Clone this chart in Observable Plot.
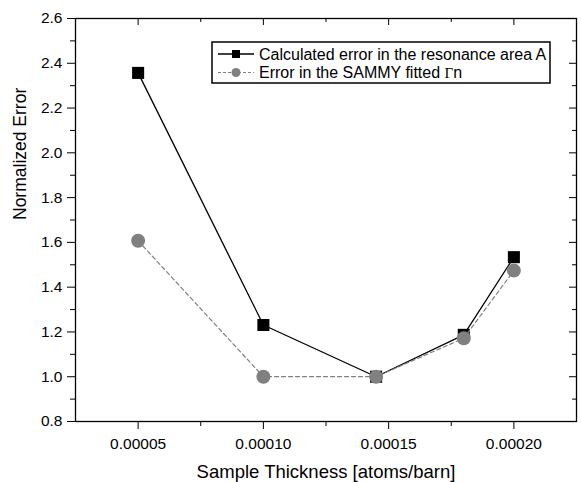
<!DOCTYPE html>
<html><head><meta charset="utf-8">
<script src="https://cdn.jsdelivr.net/npm/d3@7"></script>
<script src="https://cdn.jsdelivr.net/npm/@observablehq/plot@0.6"></script>
<style>body{margin:0;background:#fff}#chart{width:581px;height:482px}</style>
</head><body><div id="chart"></div>
<script>
const thickness = [0.00005, 0.00010, 0.000145, 0.00018, 0.00020];
const calcError = [2.357, 1.231, 1.00, 1.187, 1.534];
const sammyError = [1.607, 1.00, 1.00, 1.172, 1.474];
const xMajorTicks = [0.00005, 0.00010, 0.00015, 0.00020];
const xMinorTicks = [0.000075, 0.000125, 0.000175];
const yMajorTicks = [0.8, 1.0, 1.2, 1.4, 1.6, 1.8, 2.0, 2.2, 2.4, 2.6];
const yMinorTicks = [0.9, 1.1, 1.3, 1.5, 1.7, 1.9, 2.1, 2.3, 2.5];
const xTitle = "Sample Thickness [atoms/barn]";
const yTitle = "Normalized Error";
const seriesNames = ["Calculated error in the resonance area A", "Error in the SAMMY fitted "];

const rows = thickness.map((t, i) => ({t, calc: calcError[i], sammy: sammyError[i]}));

const W = 581, H = 482, mL = 75, mR = 5, mT = 18, mB = 61;
const fw = W - mL - mR, fh = H - mT - mB;
const FONT = "Arial, 'Liberation Sans', sans-serif";

const svg = Plot.plot({
  width: W, height: H,
  marginLeft: mL, marginRight: mR, marginTop: mT, marginBottom: mB,
  style: {fontFamily: FONT, fontSize: "15px", color: "black", background: "white"},
  x: {domain: [0.000025, 0.000225]},
  y: {domain: [0.8, 2.6]},
  marks: [
    Plot.axisX({ticks: xMajorTicks, tickSize: 8, tickPadding: 8, tickFormat: d => d.toFixed(5), label: null, fontSize: 15.5}),
    Plot.axisX({ticks: xMinorTicks, tickSize: 5, tickFormat: () => "", label: null}),
    Plot.axisY({ticks: yMajorTicks, tickSize: 8, tickPadding: 5, tickFormat: d => d.toFixed(1), label: null, fontSize: 15.5}),
    Plot.axisY({ticks: yMinorTicks, tickSize: 5, tickFormat: () => "", label: null}),
    Plot.tickX(xMajorTicks, {x: d => d, insetBottom: fh - 7, stroke: "black"}),
    Plot.tickX(xMinorTicks, {x: d => d, insetBottom: fh - 4, stroke: "black"}),
    Plot.tickY(yMajorTicks, {y: d => d, insetLeft: fw - 7, stroke: "black"}),
    Plot.tickY(yMinorTicks, {y: d => d, insetLeft: fw - 4, stroke: "black"}),
    Plot.frame({stroke: "black", strokeWidth: 1.3}),
    Plot.text([xTitle], {text: d => d, frameAnchor: "bottom", lineAnchor: "middle", dy: 51, fontSize: 18.5, fill: "black"}),
    Plot.text([yTitle], {text: d => d, frameAnchor: "left", lineAnchor: "middle", dx: -55, rotate: -90, fontSize: 17.5, fill: "black"}),
    Plot.line(rows, {x: "t", y: "calc", stroke: "black", strokeWidth: 1.3}),
    Plot.dot(rows, {x: "t", y: "calc", symbol: "square", fill: "black", r: 6.8}),
    Plot.line(rows, {x: "t", y: "sammy", stroke: "#808080", strokeWidth: 1.2, strokeDasharray: "4,3"}),
    Plot.dot(rows, {x: "t", y: "sammy", fill: "#808080", r: 7})
  ]
});

// legend inside the plot area
const g = d3.select(svg).append("g").attr("font-family", FONT).attr("font-size", 16).attr("text-anchor", "start");
g.append("rect").attr("x", 212).attr("y", 42).attr("width", 338).attr("height", 41)
  .attr("fill", "white").attr("stroke", "black").attr("stroke-width", 1.5);
const r1 = 54, r2 = 72.5;
g.append("line").attr("x1", 218).attr("x2", 254).attr("y1", r1).attr("y2", r1).attr("stroke", "black").attr("stroke-width", 1.3);
g.append("rect").attr("x", 232).attr("y", r1 - 4).attr("width", 8).attr("height", 8).attr("fill", "black");
g.append("text").attr("x", 259).attr("y", r1).attr("dy", "0.35em").attr("fill", "black").text(seriesNames[0]);
g.append("line").attr("x1", 218).attr("x2", 254).attr("y1", r2).attr("y2", r2).attr("stroke", "#808080").attr("stroke-width", 1.2).attr("stroke-dasharray", "3,2");
g.append("circle").attr("cx", 236).attr("cy", r2).attr("r", 4.5).attr("fill", "#808080");
const t2 = g.append("text").attr("x", 259).attr("y", r2).attr("dy", "0.35em").attr("fill", "black");
t2.append("tspan").text(seriesNames[1]);
t2.append("tspan").attr("font-family", "'Liberation Serif', serif").attr("font-size", 15).text("Γ");
t2.append("tspan").text("n");

document.getElementById("chart").appendChild(svg);
</script></body></html>
